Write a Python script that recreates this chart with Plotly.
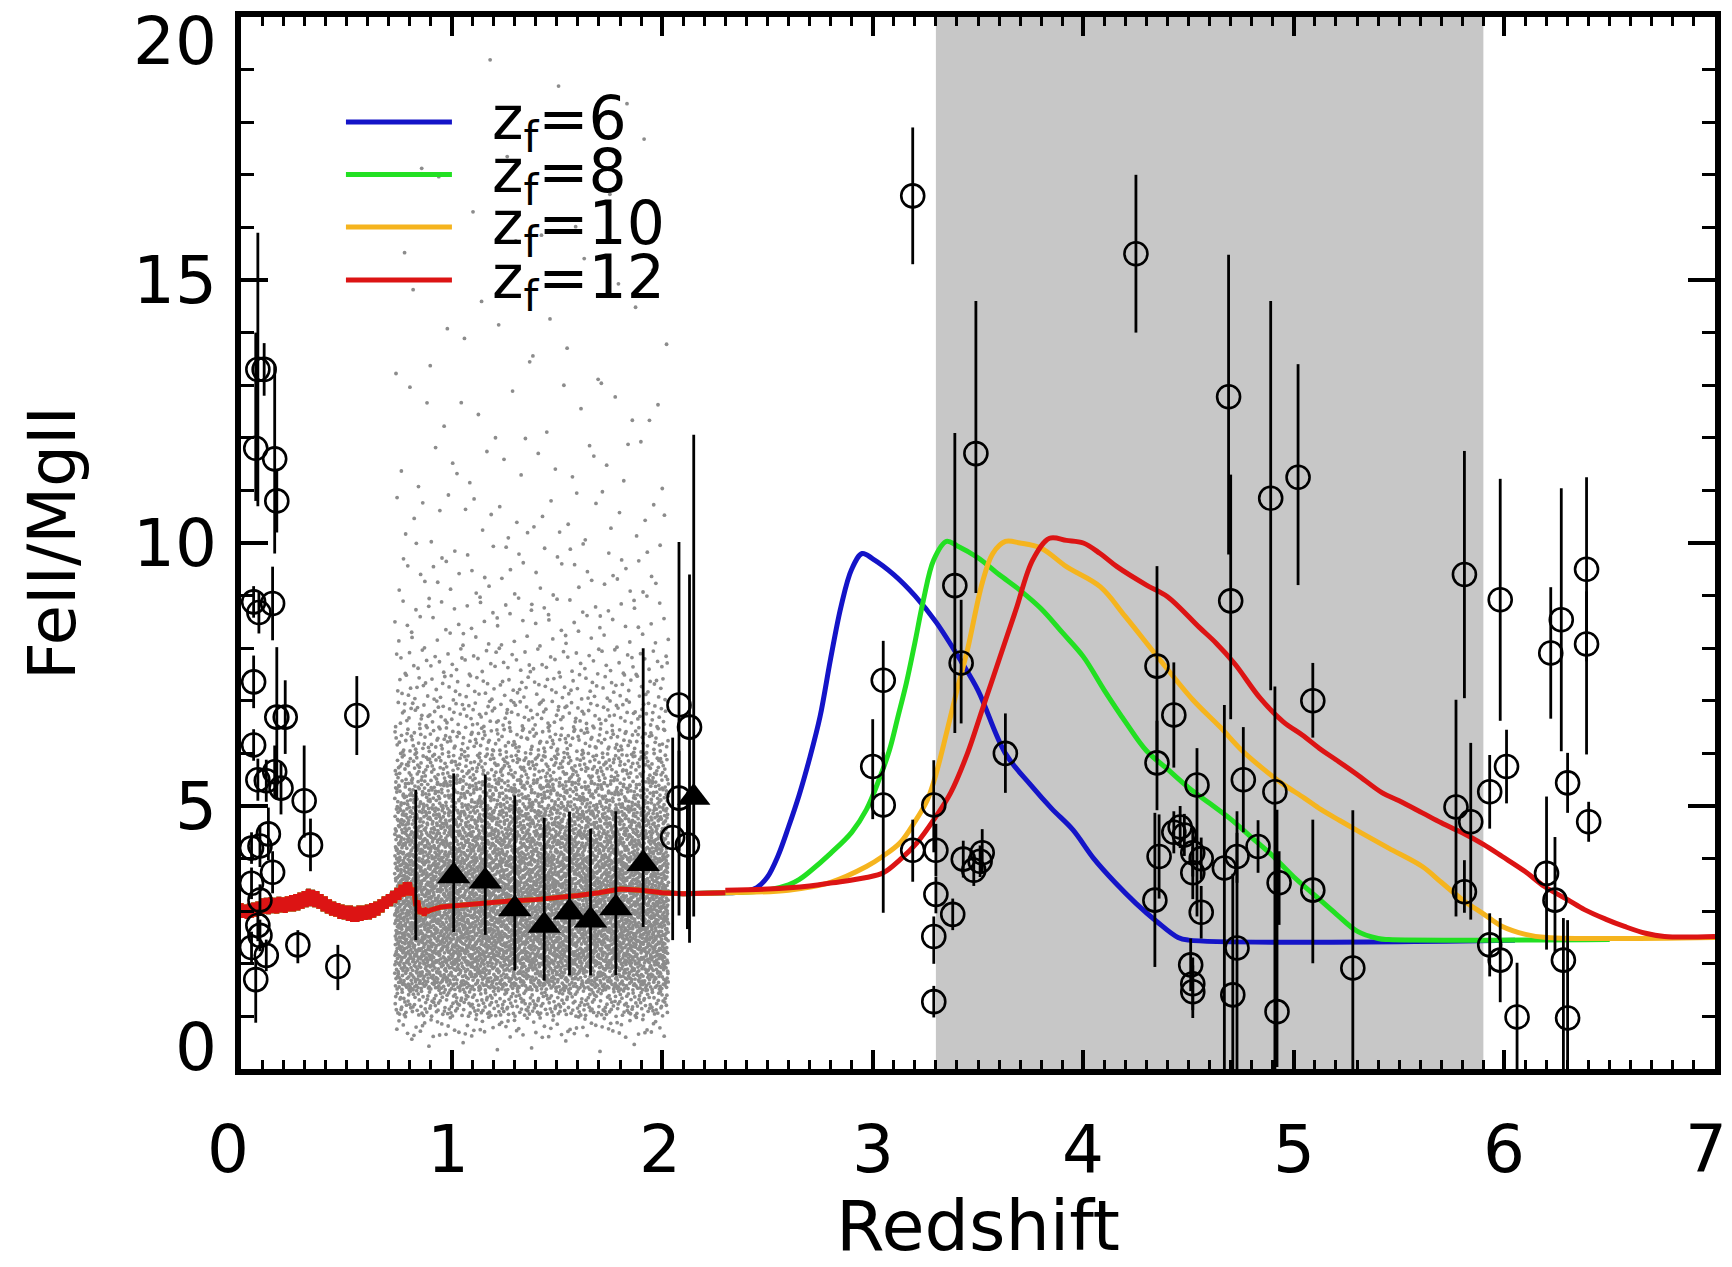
import plotly.graph_objects as go

# ---------------- model curves (FeII/MgII vs redshift) ----------------
# shared low-redshift part of all four models (dense jagged section)
z_low = [0.00,0.01,0.02,0.03,0.04,0.05,0.06,0.07,0.08,0.09,
         0.10,0.11,0.12,0.13,0.14,0.15,0.16,0.17,0.18,0.19,
         0.20,0.21,0.22,0.23,0.24,0.25,0.26,0.27,0.28,0.29,
         0.30,0.31,0.32,0.33,0.34,0.35,0.36,0.37,0.38,0.39,
         0.40,0.41,0.42,0.43,0.44,0.45,0.46,0.47,0.48,0.49,
         0.50,0.51,0.52,0.53,0.54,0.55,0.56,0.57,0.58,0.59,
         0.60,0.61,0.62,0.63,0.64,0.65,0.66,0.67,0.68,0.69,
         0.70,0.71,0.72,0.73,0.74,0.75,0.76,0.77,0.78,0.79,
         0.80,0.81,0.82,0.83,0.84,0.85,0.86,0.87,0.88,0.89,
         0.90,0.95,1.00,1.10,1.20,1.30,1.40,1.50,1.60,1.70,1.80,1.90,2.00,2.10,2.20,2.30]
v_low = [3.15,2.88,3.12,2.86,3.14,2.88,3.16,2.90,3.18,2.92,
         3.24,2.96,3.25,2.95,3.26,2.97,3.25,2.96,3.27,2.98,
         3.26,2.97,3.28,3.00,3.30,3.00,3.32,3.02,3.35,3.05,
         3.38,3.08,3.42,3.10,3.40,3.08,3.38,3.05,3.32,3.00,
         3.28,2.96,3.22,2.92,3.18,2.90,3.15,2.86,3.12,2.85,
         3.10,2.82,3.10,2.80,3.08,2.80,3.10,2.82,3.10,2.84,
         3.12,2.85,3.15,2.88,3.18,2.92,3.22,2.98,3.28,3.05,
         3.32,3.10,3.38,3.16,3.44,3.22,3.50,3.28,3.55,3.30,
         3.55,3.30,3.45,3.10,3.20,2.95,3.05,2.92,3.02,3.00,
         3.02,3.08,3.10,3.14,3.17,3.20,3.22,3.25,3.30,3.35,3.42,3.40,3.35,3.33,3.33,3.35]

z_zf6 = [2.3,2.4,2.45,2.5,2.55,2.6,2.65,2.7,2.75,2.8,2.85,2.9,2.95,3.0,3.1,3.2,3.3,3.42,3.5,
         3.63,3.75,3.85,3.95,4.05,4.15,4.25,4.35,4.45,4.5,6.05]
v_zf6 = [3.35,3.38,3.45,3.65,4.05,4.6,5.2,5.9,6.7,7.8,8.8,9.5,9.8,9.7,9.4,9.0,8.5,7.75,7.2,
         6.0,5.4,4.95,4.55,4.0,3.55,3.15,2.8,2.5,2.45,2.45]

z_zf8 = [2.3,2.5,2.6,2.65,2.7,2.8,2.9,2.97,3.03,3.08,3.12,3.16,3.2,3.24,3.29,3.35,3.4,3.5,3.6,
         3.7,3.8,3.9,4.0,4.1,4.2,4.3,4.4,4.5,4.6,4.7,4.8,4.9,5.0,5.1,5.2,5.3,5.4,5.45,6.5]
v_zf8 = [3.35,3.4,3.5,3.6,3.75,4.1,4.5,4.93,5.5,6.07,6.7,7.34,8.1,8.9,9.68,10.03,9.95,9.72,9.4,
         9.1,8.75,8.3,7.84,7.2,6.6,6.05,5.7,5.35,5.05,4.75,4.4,4.05,3.65,3.3,2.95,2.62,2.48,2.46,2.46]

z_zf10 = [2.3,2.6,2.8,2.97,3.05,3.13,3.2,3.26,3.3,3.35,3.4,3.45,3.52,3.57,3.63,3.7,3.8,3.92,4.08,
          4.2,4.35,4.52,4.65,4.75,4.85,4.94,5.05,5.13,5.22,5.32,5.45,5.61,5.7,5.8,5.9,5.99,6.1,6.2,7.0]
v_zf10 = [3.35,3.4,3.55,3.85,4.05,4.3,4.7,5.12,5.6,6.38,7.2,7.97,9.24,9.8,10.03,10.0,9.9,9.55,9.17,
          8.6,7.85,7.02,6.5,6.07,5.72,5.44,5.15,4.93,4.72,4.49,4.2,3.85,3.55,3.22,2.95,2.71,2.56,2.5,2.5]

z_zf12 = [2.3,2.5,2.7,2.81,2.97,3.05,3.13,3.21,3.29,3.37,3.45,3.52,3.6,3.68,3.76,3.84,3.92,4.0,
          4.08,4.16,4.3,4.4,4.55,4.63,4.72,4.84,4.95,5.04,5.13,5.2,5.3,5.42,5.5,5.61,5.7,5.8,5.9,
          5.99,6.1,6.19,6.3,6.38,6.48,6.57,6.67,6.76,7.0]
v_zf12 = [3.4,3.42,3.48,3.54,3.64,3.73,3.98,4.3,4.74,5.25,6.0,6.83,7.78,8.73,9.68,10.09,10.05,10.0,
          9.8,9.55,9.2,8.98,8.4,8.1,7.7,7.05,6.6,6.35,6.07,5.88,5.6,5.25,5.1,4.87,4.68,4.49,4.27,
          4.04,3.75,3.47,3.22,3.03,2.85,2.71,2.58,2.52,2.52]

model_names = ["z<sub>f</sub>=6", "z<sub>f</sub>=8", "z<sub>f</sub>=10", "z<sub>f</sub>=12"]
model_colors = ["#1414c8", "#22e022", "#f5b41e", "#dc1414"]

# ---------------- quasar measurements (open circles) ----------------
circ_z = [0.08,0.11,0.07,0.16,0.17,0.06,0.085,0.15,0.06,0.17,0.21,0.55,0.06,0.08,0.16,0.19,0.12,
          0.30,0.13,0.09,0.05,0.15,0.33,0.05,0.09,0.08,0.09,0.05,0.12,0.07,0.27,0.46,
          2.08,2.13,2.08,2.05,2.12,
          3.19,3.05,3.00,3.05,3.19,3.29,3.30,3.30,3.29,3.29,3.38,3.39,3.49,3.42,3.43,3.48,3.51,3.52,
          3.63,4.25,4.69,4.70,4.89,5.02,5.09,5.09,4.91,4.93,4.92,4.76,4.73,4.83,4.71,4.73,4.67,
          4.35,4.35,4.43,4.34,4.36,4.43,4.46,4.48,4.52,4.51,4.52,4.52,4.52,4.54,4.56,4.56,5.28,
          5.81,5.77,5.81,5.84,5.93,5.98,6.01,5.93,5.98,6.06,6.22,6.27,6.39,6.39,6.30,6.40,6.20,
          6.24,6.28,6.30]
circ_v = [13.3,13.3,11.8,11.6,10.8,8.88,8.68,8.85,7.36,6.69,6.69,6.72,6.16,5.5,5.65,5.34,5.48,
          5.1,4.47,4.24,4.2,3.74,4.26,3.53,3.21,2.73,2.54,2.31,2.16,1.7,2.36,1.95,
          6.92,6.5,5.15,4.4,4.26,
          16.6,7.39,5.75,5.02,4.16,5.02,4.16,3.32,2.52,1.28,2.94,9.19,11.7,7.72,3.99,3.78,3.95,4.11,
          6.0,15.5,12.78,8.9,10.85,11.25,7.0,3.4,5.27,3.54,1.09,5.5,4.04,4.23,1.41,2.3,3.82,
          7.66,5.82,6.73,3.21,4.04,4.5,4.6,4.45,4.11,1.98,1.62,1.47,3.73,5.4,4.0,2.98,1.92,
          9.4,4.98,3.37,4.7,5.27,8.92,5.75,2.36,2.07,0.99,7.91,8.54,9.5,8.08,5.44,4.7,3.72,
          3.21,2.07,0.97]
circ_up = [2.6,0.5,2.2,1.8,0.6,0.3,0.4,0.7,0.5,1.33,0.7,0.75,0.3,0.4,0.5,0.5,0.4,
           1.05,0.5,0.4,0.3,0.4,0.5,0.3,0.3,0.3,0.3,0.3,0.3,0.43,0.28,0.41,
           3.1,2.9,0.9,1.9,1.0,
           1.3,0.75,0.9,1.0,0.58,0.85,0.5,0.33,0.38,0.3,0.3,2.9,2.9,1.2,0.35,0.3,0.3,0.45,
           0.76,1.5,2.7,2.4,3.75,2.15,0.72,1.34,2.0,0.6,3.84,1.0,0.45,0.5,2.3,2.6,3.1,
           1.9,0.8,1.0,1.66,0.8,0.4,0.4,0.4,0.45,0.5,0.5,0.5,0.5,0.7,0.4,0.5,3.0,
           2.35,2.04,0.6,1.5,0.7,2.3,0.7,0.6,0.8,1.03,1.25,2.5,1.75,1.0,0.57,0.38,1.46,
           1.2,0.8,1.86]
circ_dn = [2.6,0.5,1.0,1.8,0.6,0.3,0.4,0.7,0.5,1.57,0.7,0.75,0.3,0.4,0.5,0.5,0.4,
           0.7,0.5,0.4,0.3,0.4,0.5,0.3,0.3,0.3,0.3,0.3,0.3,0.82,0.35,0.45,
           4.0,4.1,1.0,1.95,1.6,
           1.3,1.6,1.0,2.05,0.6,0.9,0.5,0.36,0.52,0.3,0.3,2.8,2.65,1.15,0.35,0.3,0.3,0.4,
           0.75,1.5,3.0,2.25,3.65,2.05,0.7,1.39,5.27,0.8,1.05,1.0,0.5,0.5,1.41,2.3,3.82,
           1.8,0.9,1.0,1.27,0.8,0.4,0.4,0.4,0.45,0.5,0.5,0.5,0.5,2.5,0.4,0.5,1.92,
           2.35,2.08,0.4,1.86,0.7,2.3,0.7,0.6,0.8,0.99,1.25,2.5,1.75,2.1,0.57,0.38,1.45,
           1.0,2.07,0.97]

# ---------------- binned averages (filled triangles) ----------------
tri_z = [1.01, 1.16, 1.30, 1.44, 1.56, 1.66, 1.78, 1.91, 2.15]
tri_v = [3.67, 3.57, 3.04, 2.73, 2.98, 2.83, 3.06, 3.90, 5.16]
tri_up = [1.95, 2.03, 2.16, 2.05, 1.91, 1.74, 1.84, 4.10, 6.90]
tri_dn = [1.07, 1.02, 1.17, 1.05, 1.20, 1.05, 1.28, 1.20, 2.26]
# one bin whose marker is hidden behind the model curves (bar only)
bar_z = [0.83]
bar_v = [3.88]
bar_err = [1.43]

# ---------------- large sample cloud (grey dots) ----------------
# thousands of individual points cannot be read one by one: the number of dots
# in each FeII/MgII band is kept here and the dots are
# spread evenly (Halton sequence) over redshift 0.73-2.03 inside each band.
cloud_z_range = [0.73, 2.03]
cloud_v_edges = [0.3, 0.6, 1.0, 1.5, 2.0, 2.5, 3.0, 3.5, 4.0, 4.5, 5.0, 5.5, 6.0, 6.5, 7.0,
                 7.5, 8.0, 9.0, 10.0, 11.0, 12.0, 13.0, 14.0, 15.0, 16.0, 17.0, 18.0, 19.5]
cloud_counts = [8, 80, 330, 650, 850, 900, 900, 850, 720, 580, 430, 300, 200, 140, 95,
                70, 75, 50, 30, 20, 14, 9, 7, 5, 4, 3, 3]


def halton(i, b):
    f, r = 1.0, 0.0
    while i > 0:
        f /= b
        r += f * (i % b)
        i //= b
    return r


cloud_x, cloud_y = [], []
idx = 1
for i, n in enumerate(cloud_counts):
    lo, hi = cloud_v_edges[i], cloud_v_edges[i + 1]
    for k in range(n):
        u = halton(idx, 2)
        w = halton(idx, 3)
        idx += 1
        cloud_x.append(cloud_z_range[0] + u * (cloud_z_range[1] - cloud_z_range[0]))
        cloud_y.append(lo + w * (hi - lo))

# shaded redshift interval
band_z = [3.3, 5.9]

x_ticks = [0, 1, 2, 3, 4, 5, 6, 7]
y_ticks = [0, 5, 10, 15, 20]
x_title = "Redshift"
y_title = "FeII/MgII"

FONT = "DejaVu Sans"

fig = go.Figure()

fig.add_trace(go.Scatter(x=cloud_x, y=cloud_y, mode="markers",
                         marker=dict(size=3.8, color="#8c8c8c", line=dict(width=0)),
                         showlegend=False, hoverinfo="skip"))

model_z = [z_zf6, z_zf8, z_zf10, z_zf12]
model_v = [v_zf6, v_zf8, v_zf10, v_zf12]
for name, col, zz, vv in zip(model_names, model_colors, model_z, model_v):
    # jagged low-redshift part (straight segments)
    fig.add_trace(go.Scatter(x=z_low, y=v_low, mode="lines", name=name,
                             line=dict(color=col, width=5), showlegend=False))
    # smooth model rise / fall
    fig.add_trace(go.Scatter(x=zz, y=vv, mode="lines", name=name,
                             line=dict(color=col, width=5, shape="spline", smoothing=1.0),
                             showlegend=False))

fig.add_trace(go.Scatter(x=bar_z, y=bar_v, mode="markers",
                         marker=dict(size=2, color="black", opacity=0),
                         error_y=dict(type="data", array=bar_err, color="black",
                                      thickness=2.8, width=0),
                         showlegend=False))

fig.add_trace(go.Scatter(x=circ_z, y=circ_v, mode="markers",
                         marker=dict(symbol="circle-open", size=23, color="black",
                                     line=dict(width=2.6, color="black")),
                         error_y=dict(type="data", symmetric=False, array=circ_up,
                                      arrayminus=circ_dn, color="black", thickness=2.8, width=0),
                         showlegend=False))

fig.add_trace(go.Scatter(x=tri_z, y=tri_v, mode="markers",
                         marker=dict(symbol="triangle-up", size=29, color="black"),
                         error_y=dict(type="data", symmetric=False, array=tri_up,
                                      arrayminus=tri_dn, color="black", thickness=2.8, width=0),
                         showlegend=False))

fig.add_shape(type="rect", xref="x", yref="paper", x0=band_z[0], x1=band_z[1], y0=0, y1=1,
              fillcolor="#c7c7c7", line=dict(width=0), layer="below")

# legend (drawn as a key in paper coordinates)
leg_y = [0.9002, 0.8502, 0.8004, 0.7500]
for name, col, yy in zip(model_names, model_colors, leg_y):
    fig.add_shape(type="line", xref="paper", yref="paper", x0=0.0712, x1=0.1431, y0=yy, y1=yy,
                  line=dict(color=col, width=5))
    fig.add_annotation(xref="paper", yref="paper", x=0.1690, y=yy, text=name, showarrow=False,
                       xanchor="left", yanchor="middle", yshift=-1,
                       font=dict(family=FONT, size=60, color="black"))

# y tick labels
y_shift = {0: 22, 5: 0, 10: 0, 15: 0, 20: -24}
for t in y_ticks:
    fig.add_annotation(xref="paper", yref="y", x=0, y=t, text=str(t), showarrow=False,
                       xanchor="right", yanchor="middle", xshift=-22, yshift=y_shift[t],
                       font=dict(family=FONT, size=66, color="black"))

# x tick labels
x_shift = {0: -13, 1: -4, 2: -2, 3: 0, 4: 0, 5: 0, 6: 0, 7: -9}
for t in x_ticks:
    fig.add_annotation(xref="x", yref="paper", x=t, y=0, text=str(t), showarrow=False,
                       xanchor="center", yanchor="middle", xshift=x_shift[t], yshift=-80,
                       font=dict(family=FONT, size=66, color="black"))

axis_common = dict(showline=True, linecolor="black", linewidth=6, mirror="ticks",
                   ticks="inside", tickcolor="black", showgrid=False, zeroline=False,
                   showticklabels=False)

fig.update_xaxes(range=[0, 7], dtick=1, tick0=0,
                 ticklen=19, tickwidth=3.5,
                 minor=dict(dtick=0.1, tick0=0, ticks="inside", ticklen=9, tickwidth=3,
                            tickcolor="black", showgrid=False),
                 title=dict(text=x_title, font=dict(family=FONT, size=70, color="black"),
                            standoff=130),
                 **axis_common)
fig.update_yaxes(range=[0, 20], dtick=5, tick0=0,
                 ticklen=27, tickwidth=3.5,
                 minor=dict(dtick=1, tick0=0, ticks="inside", ticklen=13, tickwidth=3,
                            tickcolor="black", showgrid=False),
                 title=dict(text=y_title, font=dict(family=FONT, size=66, color="black"),
                            standoff=140),
                 **axis_common)

fig.update_layout(width=1732, height=1267,
                  margin=dict(l=241, r=17, t=17, b=198, autoexpand=False),
                  paper_bgcolor="white", plot_bgcolor="white",
                  font=dict(family=FONT, color="black"), showlegend=False)

fig.write_html("out.html")
